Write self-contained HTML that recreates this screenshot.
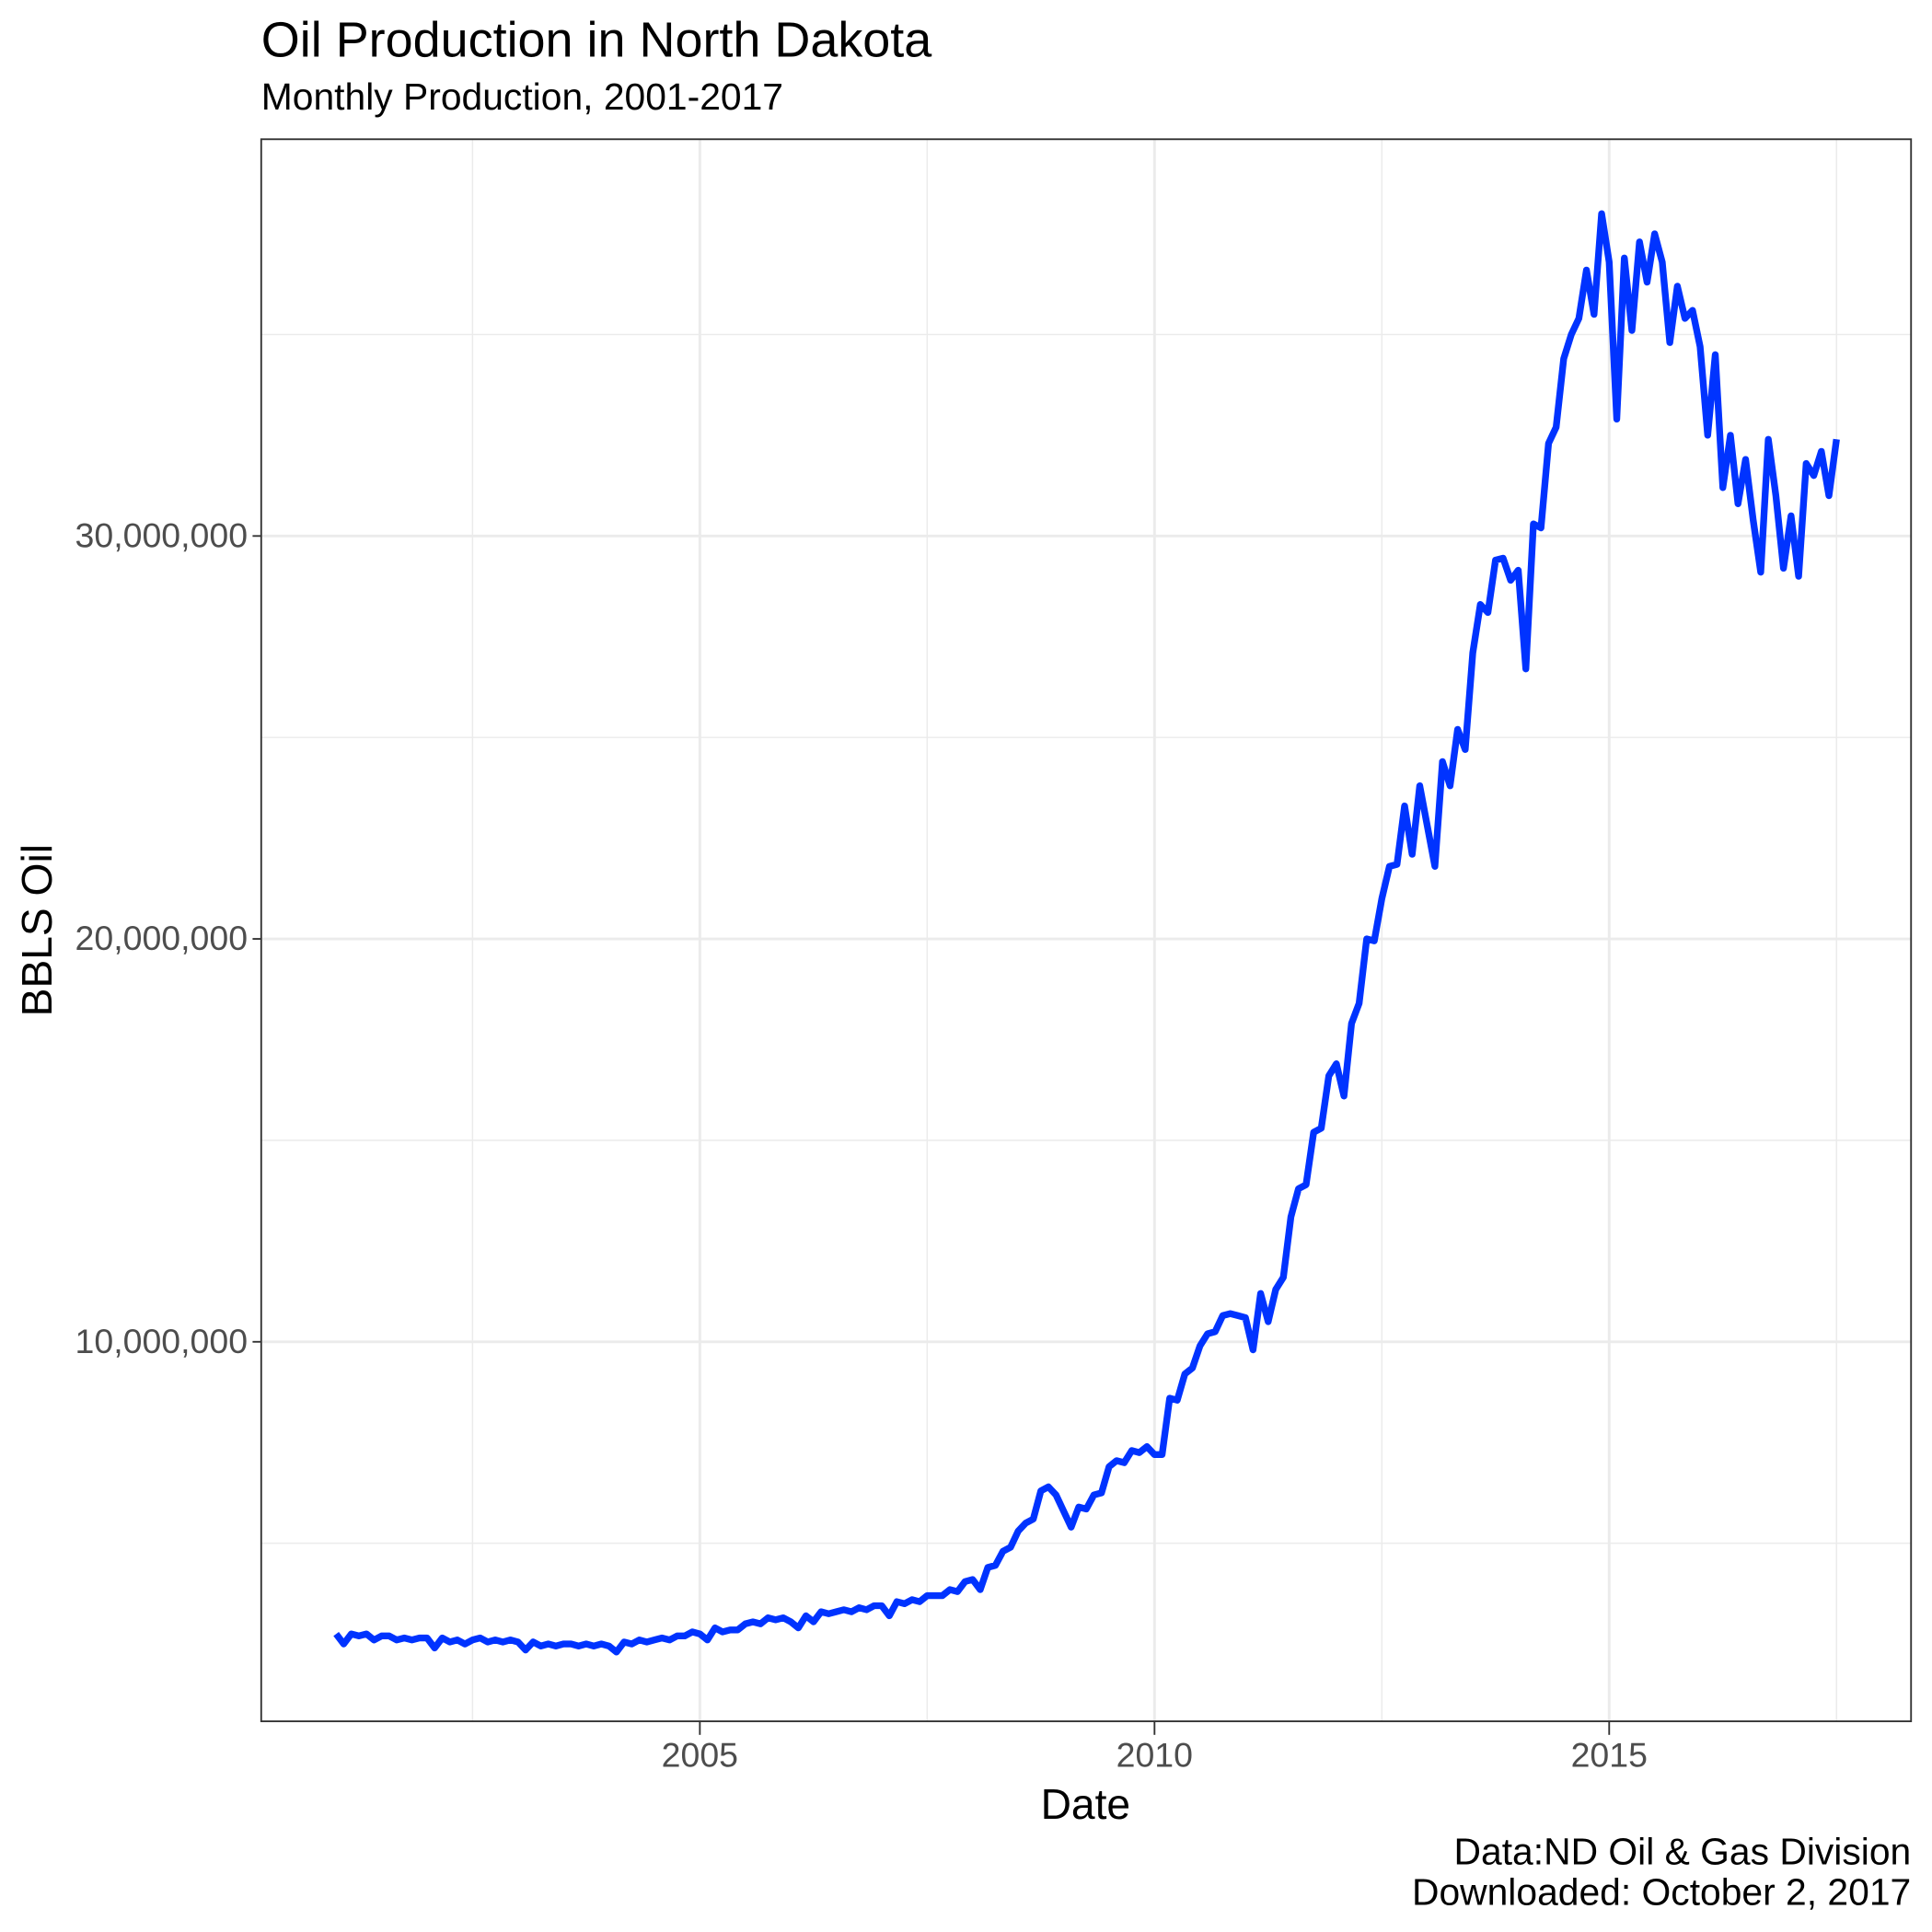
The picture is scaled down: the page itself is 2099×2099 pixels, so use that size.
<!DOCTYPE html>
<html><head><meta charset="utf-8"><style>
html,body{margin:0;padding:0;background:#fff}
svg{display:block;font-family:"Liberation Sans",Arial,sans-serif}
</style></head><body>
<svg id="chart" width="2099" height="2099" viewBox="0 0 1568 1568" xmlns="http://www.w3.org/2000/svg">
<rect width="1568" height="1568" fill="#fff"/>
<text x="212" y="46" font-size="40.3" fill="#000">Oil Production in North Dakota</text>
<text x="212" y="89" font-size="30.5" fill="#000">Monthly Production, 2001-2017</text>
<g id="grid"></g>
<g id="series"></g>
<rect x="212" y="113" width="1339" height="1284" fill="none" stroke="#333" stroke-width="1.4"/>
<g id="axes"></g>
<text x="881" y="1476" font-size="34.5" text-anchor="middle" fill="#000">Date</text>
<text transform="translate(42,755) rotate(-90)" font-size="34.5" text-anchor="middle" fill="#000">BBLS Oil</text>
<text x="1551" y="1513" font-size="30.5" text-anchor="end" fill="#000">Data:ND Oil &amp; Gas Division</text>
<text x="1551" y="1546" font-size="30.5" text-anchor="end" fill="#000">Downloaded: October 2, 2017</text>
</svg>
<script>
const startYear = 2001;
const production = [
2.75,2.5,2.75,2.7,2.75,2.6,2.7,2.7,2.6,2.65,2.6,2.65,
2.65,2.4,2.65,2.55,2.6,2.5,2.6,2.65,2.55,2.6,2.55,2.6,
2.55,2.35,2.55,2.45,2.5,2.45,2.5,2.5,2.45,2.5,2.45,2.5,
2.45,2.3,2.55,2.5,2.6,2.55,2.6,2.65,2.6,2.7,2.7,2.8,
2.75,2.6,2.9,2.8,2.85,2.85,3.0,3.05,3.0,3.15,3.1,3.15,
3.05,2.9,3.2,3.05,3.3,3.25,3.3,3.35,3.3,3.4,3.35,3.45,
3.45,3.2,3.55,3.5,3.6,3.55,3.7,3.7,3.7,3.85,3.8,4.05,
4.1,3.85,4.4,4.45,4.8,4.9,5.3,5.5,5.6,6.3,6.4,6.2,
5.8,5.4,5.9,5.85,6.2,6.25,6.9,7.05,7.0,7.3,7.25,7.4,
7.2,7.2,8.6,8.55,9.2,9.35,9.9,10.2,10.25,10.65,10.7,10.65,
10.6,9.8,11.2,10.5,11.3,11.6,13.1,13.8,13.9,15.2,15.3,16.6,
16.9,16.1,17.9,18.4,20.0,19.95,21.0,21.8,21.85,23.3,22.1,23.8,
22.8,21.8,24.4,23.8,25.2,24.7,27.1,28.3,28.1,29.4,29.45,28.9,
29.15,26.7,30.3,30.2,32.3,32.7,34.4,35.0,35.4,36.6,35.5,38.0,
36.8,32.9,36.9,35.1,37.3,36.3,37.5,36.8,34.8,36.2,35.4,35.6,
34.7,32.5,34.5,31.2,32.5,30.8,31.9,30.4,29.1,32.4,31.0,29.2,
30.5,29.0,31.8,31.5,32.1,31.0,32.4];
const xTicks = [2005, 2010, 2015];
const xMinor = [2002.5, 2007.5, 2012.5, 2017.5];
const yTicks = [10, 20, 30];
const yMinor = [5, 15, 25, 35];
const yTickLabels = ["10,000,000", "20,000,000", "30,000,000"];

const NS = "http://www.w3.org/2000/svg";
const X = yr => 568 + (yr - 2005) * 73.8;
const Y = m => 1416 - m * 32.7;
const PL = 212, PR = 1551, PT = 113, PB = 1397;
function mk(tag, attrs, parent){const e=document.createElementNS(NS,tag);for(const k in attrs)e.setAttribute(k,attrs[k]);parent.appendChild(e);return e;}
const grid = document.getElementById('grid');
const axes = document.getElementById('axes');
xMinor.forEach(v=>{const l=mk('line',{x1:X(v),x2:X(v),y1:PT,y2:PB,stroke:'#ebebeb','stroke-width':1.1},grid);

});
yMinor.forEach(v=>{const l=mk('line',{x1:PL,x2:PR,y1:Y(v),y2:Y(v),stroke:'#ebebeb','stroke-width':1.1},grid);

});
xTicks.forEach(v=>{const l=mk('line',{x1:X(v),x2:X(v),y1:PT,y2:PB,stroke:'#ebebeb','stroke-width':2.2},grid);


const t=mk('line',{x1:X(v),x2:X(v),y1:PB,y2:PB+11,stroke:'#333','stroke-width':1.4},axes);


const tx=mk('text',{x:X(v),y:PB+37,'font-size':28,'text-anchor':'middle',fill:'#4d4d4d'},axes);tx.textContent=v;

});
yTicks.forEach((v,i)=>{const l=mk('line',{x1:PL,x2:PR,y1:Y(v),y2:Y(v),stroke:'#ebebeb','stroke-width':2.2},grid);


const t=mk('line',{x1:PL-7,x2:PL,y1:Y(v),y2:Y(v),stroke:'#333','stroke-width':1.4},axes);


const tx=mk('text',{x:PL-11,y:Y(v)+9,'font-size':28,'text-anchor':'end',fill:'#4d4d4d'},axes);tx.textContent=yTickLabels[i];

});
const pts = production.map((v,i)=>X(startYear + i/12).toFixed(2)+','+Y(v).toFixed(2)).join(' ');
const line = mk('polyline',{points:pts,fill:'none',stroke:'#0033ff','stroke-width':5.5,'stroke-linejoin':'round'},document.getElementById('series'));


</script>
</body></html>
